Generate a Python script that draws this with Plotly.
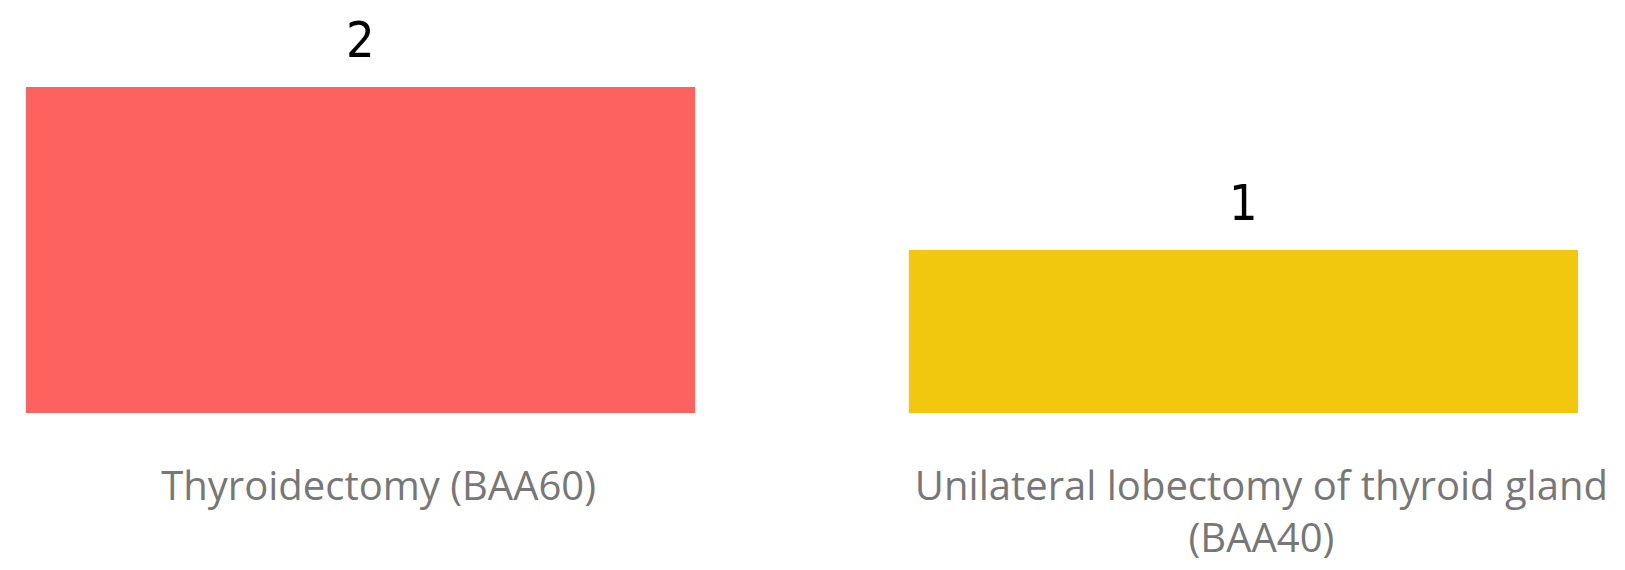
import plotly.graph_objects as go

# Procedure counts
procedures = ["Thyroidectomy (BAA60)", "Unilateral lobectomy of thyroid gland<br>(BAA40)"]
counts = [2, 1]
bar_colors = ["#FD625E", "#F2C80F"]

label_font = "Segoe UI, Open Sans, Noto Sans, sans-serif"
value_font = "DIN, Liberation Sans Narrow, DejaVu Sans Condensed, sans-serif"

fig = go.Figure(
    go.Bar(
        x=[0, 1],
        y=counts,
        width=0.758,
        marker=dict(color=bar_colors, line=dict(width=0)),
        hoverinfo="skip",
    )
)

# Value labels above each bar
for i, v in enumerate(counts):
    fig.add_annotation(
        x=i, y=v, text=str(v), showarrow=False,
        yanchor="bottom", yshift=16,
        font=dict(family=value_font, size=50, color="#000000"),
    )

fig.update_layout(
    width=1625, height=570,
    margin=dict(l=26, r=47, t=87, b=156.5),
    paper_bgcolor="white", plot_bgcolor="white",
    showlegend=False,
    xaxis=dict(
        range=[-0.379, 1.379],
        tickmode="array", tickvals=[0, 1], ticktext=procedures,
        showgrid=False, zeroline=False, showline=False, ticks="",
        automargin=False,
        ticklabelstandoff=46, ticklabelshift=18,
        tickfont=dict(family=label_font, size=40, color="#777777"),
    ),
    yaxis=dict(range=[0, 2], visible=False, automargin=False),
)

fig.write_html("out.html")
